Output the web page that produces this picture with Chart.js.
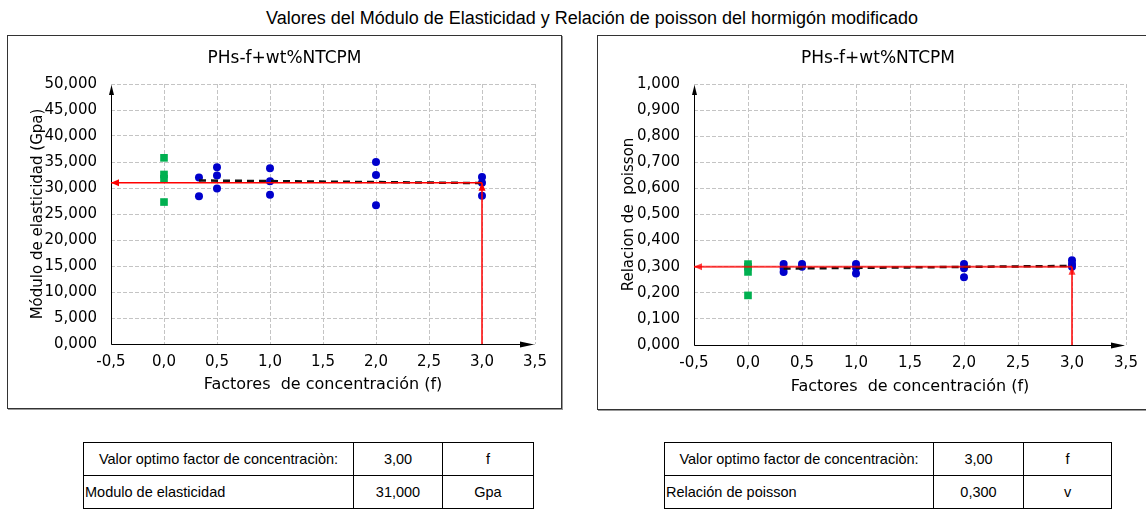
<!DOCTYPE html>
<html>
<head>
<meta charset="utf-8">
<script src="https://cdn.jsdelivr.net/npm/chart.js@4.4.0/dist/chart.umd.min.js"></script>
<style>
  body { margin: 0; width: 1146px; height: 513px; background: #fff; position: relative; overflow: hidden;
         font-family: "Liberation Sans", Arial, sans-serif; color: #000; }
  #mainTitle { position: absolute; left: 0; width: 1184px; top: 8px; text-align: center; font-size: 18px; }
  .box { position: absolute; border: 1px solid #333; box-shadow: 1px 1px 0 #999; background: #fff; }
  .box canvas { display: block; }
  table { position: absolute; border-collapse: collapse; font-size: 14.5px; }
  td { border: 1.5px solid #000; height: 32px; padding: 0; text-align: center; }
  td.left { text-align: left; padding-left: 1px; }
</style>
</head>
<body>
<div id="mainTitle">Valores del Módulo de Elasticidad y Relación de poisson del hormigón modificado</div>

<div class="box" style="left:7px; top:35px; width:553px; height:372px;">
  <canvas id="moduloChart" width="553" height="372"></canvas>
</div>
<div class="box" style="left:597px; top:35px; width:560px; height:373px;">
  <canvas id="poissonChart" width="560" height="373"></canvas>
</div>

<table style="left:83px; top:442px;">
  <tr><td style="width:269px">Valor optimo factor de concentraciòn:</td><td style="width:88px">3,00</td><td style="width:90px">f</td></tr>
  <tr><td class="left">Modulo de elasticidad</td><td>31,000</td><td>Gpa</td></tr>
</table>
<table style="left:664px; top:442px;">
  <tr><td style="width:268px">Valor optimo factor de concentraciòn:</td><td style="width:89px">3,00</td><td style="width:87px">f</td></tr>
  <tr><td class="left">Relación de poisson</td><td>0,300</td><td>v</td></tr>
</table>

<script>
// factores de concentración (f)
const fControl = [0, 0, 0, 0];
const fMuestras = [0.33, 0.33, 0.5, 0.5, 0.5, 1, 1, 1, 2, 2, 2, 3, 3, 3];
const fPoisson = [0.33, 0.33, 0.33, 0.5, 0.5, 1, 1, 1, 2, 2, 2, 3, 3, 3];
const fTendencia = [0.33, 3.0];
const fOptimo = 3.0;

// módulo de elasticidad (GPa)
const moduloControl = [35.8, 32.6, 31.8, 27.3];
const moduloMuestras = [32.0, 28.4, 34.0, 32.4, 29.9, 33.8, 31.3, 28.7, 35.0, 32.5, 26.7, 32.1, 31.0, 28.5];
const moduloTendencia = [31.45, 30.95];
const moduloOptimo = 31.0;

// relación de poisson
const poissonControl = [0.31, 0.30, 0.28, 0.19];
const poissonMuestras = [0.31, 0.295, 0.28, 0.31, 0.30, 0.31, 0.296, 0.274, 0.31, 0.294, 0.26, 0.325, 0.31, 0.30];
const poissonTendencia = [0.293, 0.303];
const poissonOptimo = 0.300;

const xTickMin = -0.5, xTickMax = 3.5, xStep = 0.5;

const pts = (xs, ys) => xs.map((x, i) => ({ x: x, y: ys[i] }));
const fmt = dec => v => Number(v).toFixed(dec).replace('.', ',');

function arrowHead(ctx, x, y, angle, len, half) {
  ctx.save();
  ctx.translate(x, y);
  ctx.rotate(angle);
  ctx.beginPath();
  ctx.moveTo(0, 0);
  ctx.lineTo(-len, -half);
  ctx.lineTo(-len, half);
  ctx.closePath();
  ctx.fill();
  ctx.restore();
}

// ejes con flecha, título y puntas de flecha de las líneas rojas
const decor = {
  id: 'decor',
  beforeDatasetsDraw(chart) {
    const { ctx, chartArea: a } = chart;
    const x0 = Math.round(a.left) + 0.5, y0 = Math.round(a.bottom) + 0.5;
    ctx.save();
    ctx.strokeStyle = '#000';
    ctx.fillStyle = '#000';
    ctx.lineWidth = 1;
    ctx.beginPath();
    ctx.moveTo(x0, y0); ctx.lineTo(x0, a.top + 6);
    ctx.moveTo(x0, y0); ctx.lineTo(a.right - 8, y0);
    ctx.stroke();
    arrowHead(ctx, x0, a.top + 1, -Math.PI / 2, 10, 2.5);
    arrowHead(ctx, a.right - 1, y0, 0, 14, 3);
    ctx.restore();
  },
  afterDatasetsDraw(chart) {
    const ctx = chart.ctx;
    chart.data.datasets.forEach((ds, i) => {
      if (!ds.arrow) return;
      const el = chart.getDatasetMeta(i).data;
      const p = el[el.length - 1], q = el[el.length - 2];
      ctx.save();
      ctx.fillStyle = ds.borderColor;
      arrowHead(ctx, p.x, p.y, Math.atan2(p.y - q.y, p.x - q.x), 8, 3.5);
      ctx.restore();
    });
  },
  afterDraw(chart) {
    const ctx = chart.ctx;
    ctx.save();
    ctx.font = '17px "DejaVu Sans"';
    ctx.fillStyle = '#000';
    ctx.textAlign = 'center';
    ctx.textBaseline = 'middle';
    ctx.fillText(chart.options.plugins.decor.text, chart.width / 2, 23);
    ctx.restore();
  }
};

function buildChart(id, o) {
  const tickFont = { family: 'DejaVu Sans', size: 15 };
  return new Chart(document.getElementById(id), {
    type: 'scatter',
    data: {
      datasets: [
        { data: pts([fOptimo, fOptimo], [0, o.optimo]), showLine: true, borderColor: o.red,
          borderWidth: o.redWidth, pointRadius: 0, arrow: true, order: 0 },
        { data: pts([fOptimo, xTickMin], [o.optimo, o.optimo]), showLine: true, borderColor: o.red,
          borderWidth: o.redWidth, pointRadius: 0, arrow: true, order: 1 },
        { data: pts(fTendencia, o.tendencia), showLine: true, borderColor: '#111', borderWidth: 2.5,
          borderDash: [7, 5], pointRadius: 0, order: 2 },
        { data: pts(o.fMuestras, o.muestras), pointStyle: 'circle', pointRadius: 4,
          backgroundColor: '#0000cc', borderColor: '#0000cc', borderWidth: 0, order: 3 },
        { data: pts(fControl, o.control), pointStyle: 'rect', pointRadius: 5.4,
          backgroundColor: '#00b050', borderColor: '#00b050', borderWidth: 0, order: 4 }
      ]
    },
    options: {
      responsive: false,
      animation: false,
      layout: { padding: { top: 48, right: o.padRight, left: 0, bottom: 0 } },
      plugins: { legend: { display: false }, tooltip: { enabled: false }, decor: { text: 'PHs-f+wt%NTCPM' } },
      scales: {
        x: {
          type: 'linear', min: xTickMin, max: xTickMax,
          ticks: { stepSize: xStep, callback: fmt(1), padding: 9, color: '#000', font: tickFont },
          grid: { color: '#c4c4c4', drawTicks: false, borderDash: [4, 2] },
          border: { display: false, dash: [4, 2] },
          title: { display: true, text: 'Factores  de concentración (f)', color: '#000',
                   font: { family: 'DejaVu Sans', size: 16 }, padding: { top: 0, bottom: o.xTitlePad } },
          afterFit: s => { s.height = o.xHeight; }
        },
        y: {
          type: 'linear', min: 0, max: o.yMax,
          ticks: { stepSize: o.yStep, callback: fmt(3), padding: 14, color: '#000', font: tickFont },
          grid: { color: '#c4c4c4', drawTicks: false, borderDash: [4, 2] },
          border: { display: false, dash: [4, 2] },
          title: { display: true, text: o.yTitle, color: '#000',
                   font: { family: 'DejaVu Sans', size: 15 }, padding: { top: o.yTitlePad, bottom: 0 } },
          afterFit: s => { s.width = o.yWidth; }
        }
      }
    },
    plugins: [decor]
  });
}

buildChart('moduloChart', {
  control: moduloControl, fMuestras: fMuestras, muestras: moduloMuestras,
  tendencia: moduloTendencia, optimo: moduloOptimo,
  yMax: 50, yStep: 5, yTitle: 'Módulo de elasticidad (Gpa)',
  red: '#ff0000', redWidth: 1.5,
  yWidth: 103, xHeight: 64, padRight: 26, xTitlePad: 14, yTitlePad: 21
});

buildChart('poissonChart', {
  control: poissonControl, fMuestras: fPoisson, muestras: poissonMuestras,
  tendencia: poissonTendencia, optimo: poissonOptimo,
  yMax: 1, yStep: 0.1, yTitle: 'Relacion de  poisson',
  red: 'rgba(255,0,0,0.75)', redWidth: 2,
  yWidth: 96, xHeight: 64, padRight: 32, xTitlePad: 13, yTitlePad: 22
});
</script>
</body>
</html>
